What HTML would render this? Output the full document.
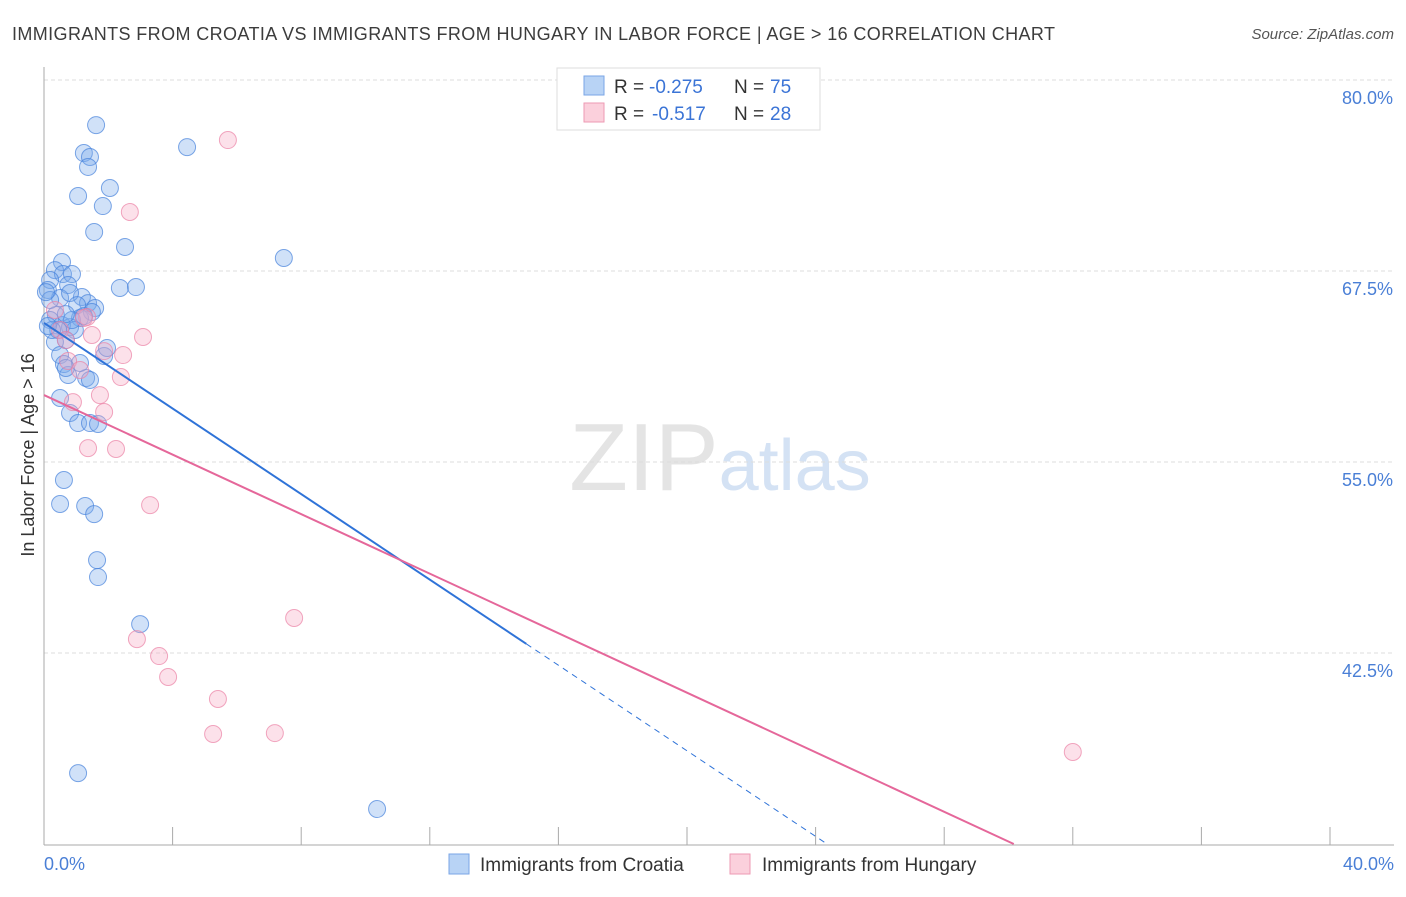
<!DOCTYPE html>
<html><head><meta charset="utf-8"><style>
body{margin:0;background:#fff;font-family:"Liberation Sans",sans-serif;}
svg text{font-family:"Liberation Sans",sans-serif;}
</style></head><body>
<svg id="chart" width="1406" height="892" xmlns="http://www.w3.org/2000/svg">
<text x="12" y="40" font-size="18" fill="#3c3c3c" textLength="1043" lengthAdjust="spacing">IMMIGRANTS FROM CROATIA VS IMMIGRANTS FROM HUNGARY IN LABOR FORCE | AGE &gt; 16 CORRELATION CHART</text>
<text x="1394" y="39" font-size="15" font-style="italic" fill="#555" text-anchor="end">Source: ZipAtlas.com</text>
<text x="720" y="490" font-size="96" text-anchor="middle" fill="#e4e4e4" font-family="Liberation Serif">ZIP<tspan fill="#d4e2f4" font-family="Liberation Sans" font-size="72">atlas</tspan></text>
<g id="grid"></g><g id="axes"></g><g id="pts"></g><g id="lines"></g>
<text transform="translate(34,455) rotate(-90)" font-size="18" fill="#333" text-anchor="middle">In Labor Force | Age &gt; 16</text>
<text x="44" y="870" font-size="18" fill="#4a7fd6">0.0%</text>
<text x="1394" y="870" font-size="18" fill="#4a7fd6" text-anchor="end">40.0%</text>
<g>
<rect x="557" y="68" width="263" height="62" fill="#fff" stroke="#ddd"/>
<rect x="584" y="76" width="20" height="19" fill="#b8d3f5" stroke="#7aa6e6"/>
<rect x="584" y="103" width="20" height="19" fill="#fbd0dc" stroke="#ee9ab3"/>
<text x="614" y="93" font-size="19" fill="#333">R =</text>
<text x="649" y="93" font-size="19" fill="#3b74d6">-0.275</text>
<text x="734" y="93" font-size="19" fill="#333">N =</text>
<text x="770" y="93" font-size="19" fill="#3b74d6">75</text>
<text x="614" y="120" font-size="19" fill="#333">R =</text>
<text x="652" y="120" font-size="19" fill="#3b74d6">-0.517</text>
<text x="734" y="120" font-size="19" fill="#333">N =</text>
<text x="770" y="120" font-size="19" fill="#3b74d6">28</text>
</g>
<g>
<rect x="449" y="854" width="20" height="20" fill="#b8d3f5" stroke="#7aa6e6"/>
<text x="480" y="871" font-size="19" fill="#333">Immigrants from Croatia</text>
<rect x="730" y="854" width="20" height="20" fill="#fbd0dc" stroke="#ee9ab3"/>
<text x="762" y="871" font-size="19" fill="#333">Immigrants from Hungary</text>
</g>
</svg>
<script>
const yTicks=[80,67.5,55,42.5];
const yTickLabels=["80.0%","67.5%","55.0%","42.5%"];
const xTicks=[0,4,8,12,16,20,24,28,32,36,40];
const croatiaX=[1.62,1.24,1.43,1.37,4.45,2.05,1.06,1.83,1.56,2.52,7.46,0.56,0.34,0.59,0.87,0.19,0.12,0.75,2.36,2.86,1.18,0.50,0.81,1.37,1.03,1.59,1.49,1.12,0.37,0.19,0.56,0.81,0.96,0.68,0.34,0.50,1.87,1.96,0.62,0.75,1.31,1.43,0.50,0.81,1.06,1.43,1.68,0.62,0.50,1.28,1.56,1.65,1.68,2.99,1.06,10.36,0.19,0.06,0.44,0.25,0.87,0.68,1.24,1.12,0.68,0.12];
const croatiaY=[77.05,75.22,74.96,74.31,75.61,72.93,72.41,71.75,70.05,69.07,68.35,68.09,67.56,67.30,67.30,66.91,66.26,66.58,66.39,66.45,65.80,65.73,66.06,65.40,65.27,65.08,64.82,64.42,64.62,64.29,63.96,63.83,63.64,62.98,62.85,62.00,61.94,62.46,61.41,60.69,60.50,60.37,59.19,58.21,57.55,57.55,57.49,53.82,52.25,52.12,51.59,48.58,47.47,44.39,34.64,32.29,65.60,66.12,63.64,63.64,64.29,64.68,64.55,61.48,61.15,63.90];
const hungaryX=[5.72,2.67,3.08,1.49,1.34,2.46,1.87,0.75,1.12,2.39,1.74,0.90,1.87,1.37,2.24,3.30,7.78,2.89,3.58,3.86,5.41,5.26,7.18,32.00,0.50,0.68,0.34,1.24];
const hungaryY=[76.07,71.36,63.18,63.31,64.49,62.00,62.26,61.61,61.02,60.56,59.38,58.92,58.27,55.91,55.85,52.18,44.79,43.41,42.30,40.93,39.49,37.20,37.26,36.02,63.64,62.98,64.95,64.42];
const croatiaFit=[64.1,-1.40];
const hungaryFit=[59.38,-0.974];
const NS="http://www.w3.org/2000/svg";
const X0=44,X1=1330,Y80=80,PXPER=15.28;
const sx=v=>X0+(v/40)*(X1-X0);
const sy=v=>Y80+(80-v)*PXPER;
function mk(tag,attrs,parent){const e=document.createElementNS(NS,tag);for(const k in attrs)e.setAttribute(k,attrs[k]);parent.appendChild(e);return e;}
const grid=document.getElementById('grid'),axes=document.getElementById('axes'),pts=document.getElementById('pts'),lines=document.getElementById('lines');
yTicks.forEach((t,i)=>{
 const l=mk('line',{x1:X0,x2:1394,y1:sy(t),y2:sy(t),stroke:'#ddd','stroke-dasharray':'4,3'},grid);
 
 
 const tx=mk('text',{x:1393,y:sy(t)+24,'font-size':18,fill:'#4a7fd6','text-anchor':'end'},grid);
 tx.textContent=yTickLabels[i];
 
 
});
const ya=mk('line',{x1:X0,x2:X0,y1:67,y2:845,stroke:'#aaa'},axes);


const xa=mk('line',{x1:X0,x2:1394,y1:845,y2:845,stroke:'#aaa'},axes);


xTicks.forEach(t=>{
 const l=mk('line',{x1:sx(t),x2:sx(t),y1:827,y2:845,stroke:'#aaa'},axes);
 
 
});
croatiaX.forEach((v,i)=>{
 const c=mk('circle',{cx:sx(v),cy:sy(croatiaY[i]),r:8.5,fill:'rgba(120,170,235,0.35)',stroke:'rgba(70,130,220,0.7)','stroke-width':1},pts);
 
 
});
hungaryX.forEach((v,i)=>{
 const c=mk('circle',{cx:sx(v),cy:sy(hungaryY[i]),r:8.5,fill:'rgba(245,170,195,0.35)',stroke:'rgba(235,130,165,0.7)','stroke-width':1},pts);
 
 
});
const fy=(f,x)=>f[0]+f[1]*x;
const bl=mk('line',{x1:sx(0),y1:sy(fy(croatiaFit,0)),x2:sx(15),y2:sy(fy(croatiaFit,15)),stroke:'#2f73d8','stroke-width':2},lines);


const xe=(30-croatiaFit[0])/croatiaFit[1];
const bd=mk('line',{x1:sx(15),y1:sy(fy(croatiaFit,15)),x2:sx(xe),y2:sy(30),stroke:'#2f73d8','stroke-width':1,'stroke-dasharray':'6,5'},lines);


const xh=(30-hungaryFit[0])/hungaryFit[1];
const pl=mk('line',{x1:sx(0),y1:sy(fy(hungaryFit,0)),x2:sx(xh),y2:sy(30),stroke:'#e5679a','stroke-width':2},lines);


</script>
</body></html>
